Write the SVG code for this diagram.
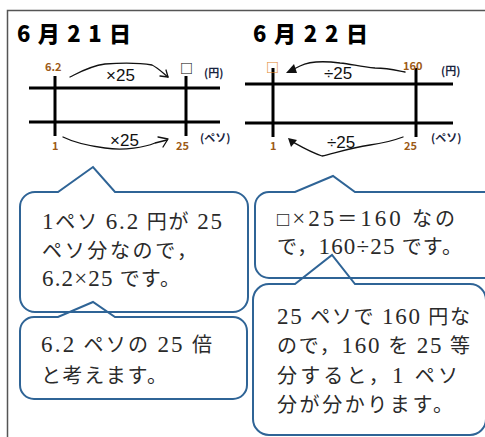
<svg xmlns="http://www.w3.org/2000/svg" width="485" height="437" viewBox="0 0 485 437">
<style>
.frame{stroke:#555;stroke-width:1.5;fill:none}
.axis{stroke:#000;stroke-width:3;fill:none}
.hand{stroke:#111;stroke-width:1.3;fill:none;stroke-linecap:round;stroke-linejoin:round}
.title{font-family:"Noto Sans CJK JP",sans-serif;font-weight:900;font-size:22px;fill:#000}
.num{font-family:"Noto Sans CJK JP",sans-serif;font-weight:700;font-size:11px;fill:#9c5a16}
.unit{font-family:"Noto Sans CJK JP",sans-serif;font-weight:700;font-size:11px;fill:#1a2440}
.hw{font-family:"Liberation Sans",sans-serif;font-size:17px;fill:#111}
.bub{fill:none;stroke:#2f6496;stroke-width:2}
.bt{font-family:"Liberation Serif","Noto Sans CJK JP",serif;font-size:20px;fill:#2a2a2a}
.lt{font-size:23px}
</style>
<rect width="485" height="437" fill="#fff"/>
<path class="frame" d="M7.5,437 V10.5 H485"/>

<g id="day1">
<text class="title" x="17" y="42" textLength="114" lengthAdjust="spacing">6月21日</text>
<line class="axis" x1="29" y1="88" x2="220" y2="88"/>
<line class="axis" x1="29" y1="122" x2="220" y2="122"/>
<line class="axis" x1="55" y1="76" x2="55" y2="136"/>
<line class="axis" x1="186" y1="76" x2="186" y2="136"/>
<text class="num" x="45" y="71">6.2</text>
<text x="180" y="73" style="font-family:'Noto Sans CJK JP',sans-serif;font-size:13px;font-weight:700;fill:#000">□</text>
<text class="unit" x="204" y="77">(円)</text>
<text class="num" x="52" y="150">1</text>
<text class="num" x="176" y="150">25</text>
<text class="unit" x="200" y="142">(ペソ)</text>
</g>

<g id="day2">
<text class="title" x="253" y="42" textLength="115" lengthAdjust="spacing">6月22日</text>
<line class="axis" x1="245" y1="84" x2="453" y2="84"/>
<line class="axis" x1="245" y1="123" x2="453" y2="123"/>
<line class="axis" x1="273" y1="68" x2="273" y2="137"/>
<line class="axis" x1="416" y1="68" x2="416" y2="137"/>
<text x="266" y="72" style="font-family:'Noto Sans CJK JP',sans-serif;font-size:13px;font-weight:700;fill:#e0841f">□</text>
<text class="num" x="403" y="70">160</text>
<text class="unit" x="441" y="75">(円)</text>
<text class="num" x="270" y="150">1</text>
<text class="num" x="404" y="150">25</text>
<text class="unit" x="431" y="142">(ペソ)</text>
</g>

<g id="connectors">
<path class="hand" d="M70,77 C80,72 90,66 105,64 C120,63 140,63 152,65 C158,68 163,73 168,77"/>
<path class="hand" d="M160,76 L168,77 L166,70"/>
<text class="hw" x="106" y="81">×25</text>
<path class="hand" d="M63,137 C75,143 90,146 105,148 C125,151 145,147 155,143 L167,140"/>
<path class="hand" d="M158,137 L168,139 L163,147"/>
<text class="hw" x="110" y="146">×25</text>
<path class="hand" d="M405,72 C395,70 388,68 375,68 C360,67 352,64 340,63 C325,61 310,61 300,66 L292,70"/>
<polygon points="286,73 294,64 297,73" fill="#111"/>
<text class="hw" x="324" y="79">÷25</text>
<path class="hand" d="M403,137 C395,140 385,143 370,145 C350,148 335,153 322,156 C310,152 300,146 291,141"/>
<polygon points="288,138 297,140 291,147" fill="#111"/>
<text class="hw" x="327" y="148">÷25</text>
</g>

<g id="bubble1">
<path class="bub" d="M35,192 H58 L93,167 L115,192 H233 A15,15 0 0 1 248,207 V297 A15,15 0 0 1 233,312 H35 A15,15 0 0 1 20,297 V207 A15,15 0 0 1 35,192 Z"/>
<text class="bt" x="42" y="229" textLength="180" lengthAdjust="spacing"><tspan class="lt">1</tspan>ペソ <tspan class="lt">6.2</tspan> 円が <tspan class="lt">25</tspan></text>
<text class="bt" x="42" y="258" textLength="155" lengthAdjust="spacing">ペソ分なので，</text>
<text class="bt" x="42" y="286" textLength="138" lengthAdjust="spacing"><tspan class="lt">6.2×25</tspan> です。</text>
</g>

<g id="bubble2">
<path class="bub" d="M34,317 H58 L93,302 L115,317 H233 A14,14 0 0 1 247,331 V385 A14,14 0 0 1 233,399 H34 A14,14 0 0 1 20,385 V331 A14,14 0 0 1 34,317 Z"/>
<text class="bt" x="41" y="352" textLength="171" lengthAdjust="spacing"><tspan class="lt">6.2</tspan> ペソの <tspan class="lt">25</tspan> 倍</text>
<text class="bt" x="41" y="383" textLength="126" lengthAdjust="spacing">と考えます。</text>
</g>

<g id="bubble3">
<path class="bub" d="M269,192 H295 L333,176 L355,192 H500 V278 H269 A14,14 0 0 1 255,264 V206 A14,14 0 0 1 269,192 Z"/>
<text class="bt" x="277" y="226" textLength="178" lengthAdjust="spacing">□<tspan class="lt">×25</tspan>＝<tspan class="lt">160</tspan> なの</text>
<text class="bt" x="277" y="254" textLength="185" lengthAdjust="spacing">で，<tspan class="lt">160÷25</tspan> です。</text>
</g>

<g id="bubble4">
<path class="bub" d="M269,284 H295 L332,255 L355,284 H470 A16,16 0 0 1 486,300 V419 A16,16 0 0 1 470,435 H269 A16,16 0 0 1 253,419 V300 A16,16 0 0 1 269,284 Z"/>
<text class="bt" x="277" y="324" textLength="193" lengthAdjust="spacing"><tspan class="lt">25</tspan> ペソで <tspan class="lt">160</tspan> 円な</text>
<text class="bt" x="277" y="353" textLength="193" lengthAdjust="spacing">ので，<tspan class="lt">160</tspan> を <tspan class="lt">25</tspan> 等</text>
<text class="bt" x="277" y="383" textLength="181" lengthAdjust="spacing">分すると，<tspan class="lt">1</tspan> ペソ</text>
<text class="bt" x="277" y="412" textLength="176" lengthAdjust="spacing">分が分かります。</text>
</g>
</svg>
